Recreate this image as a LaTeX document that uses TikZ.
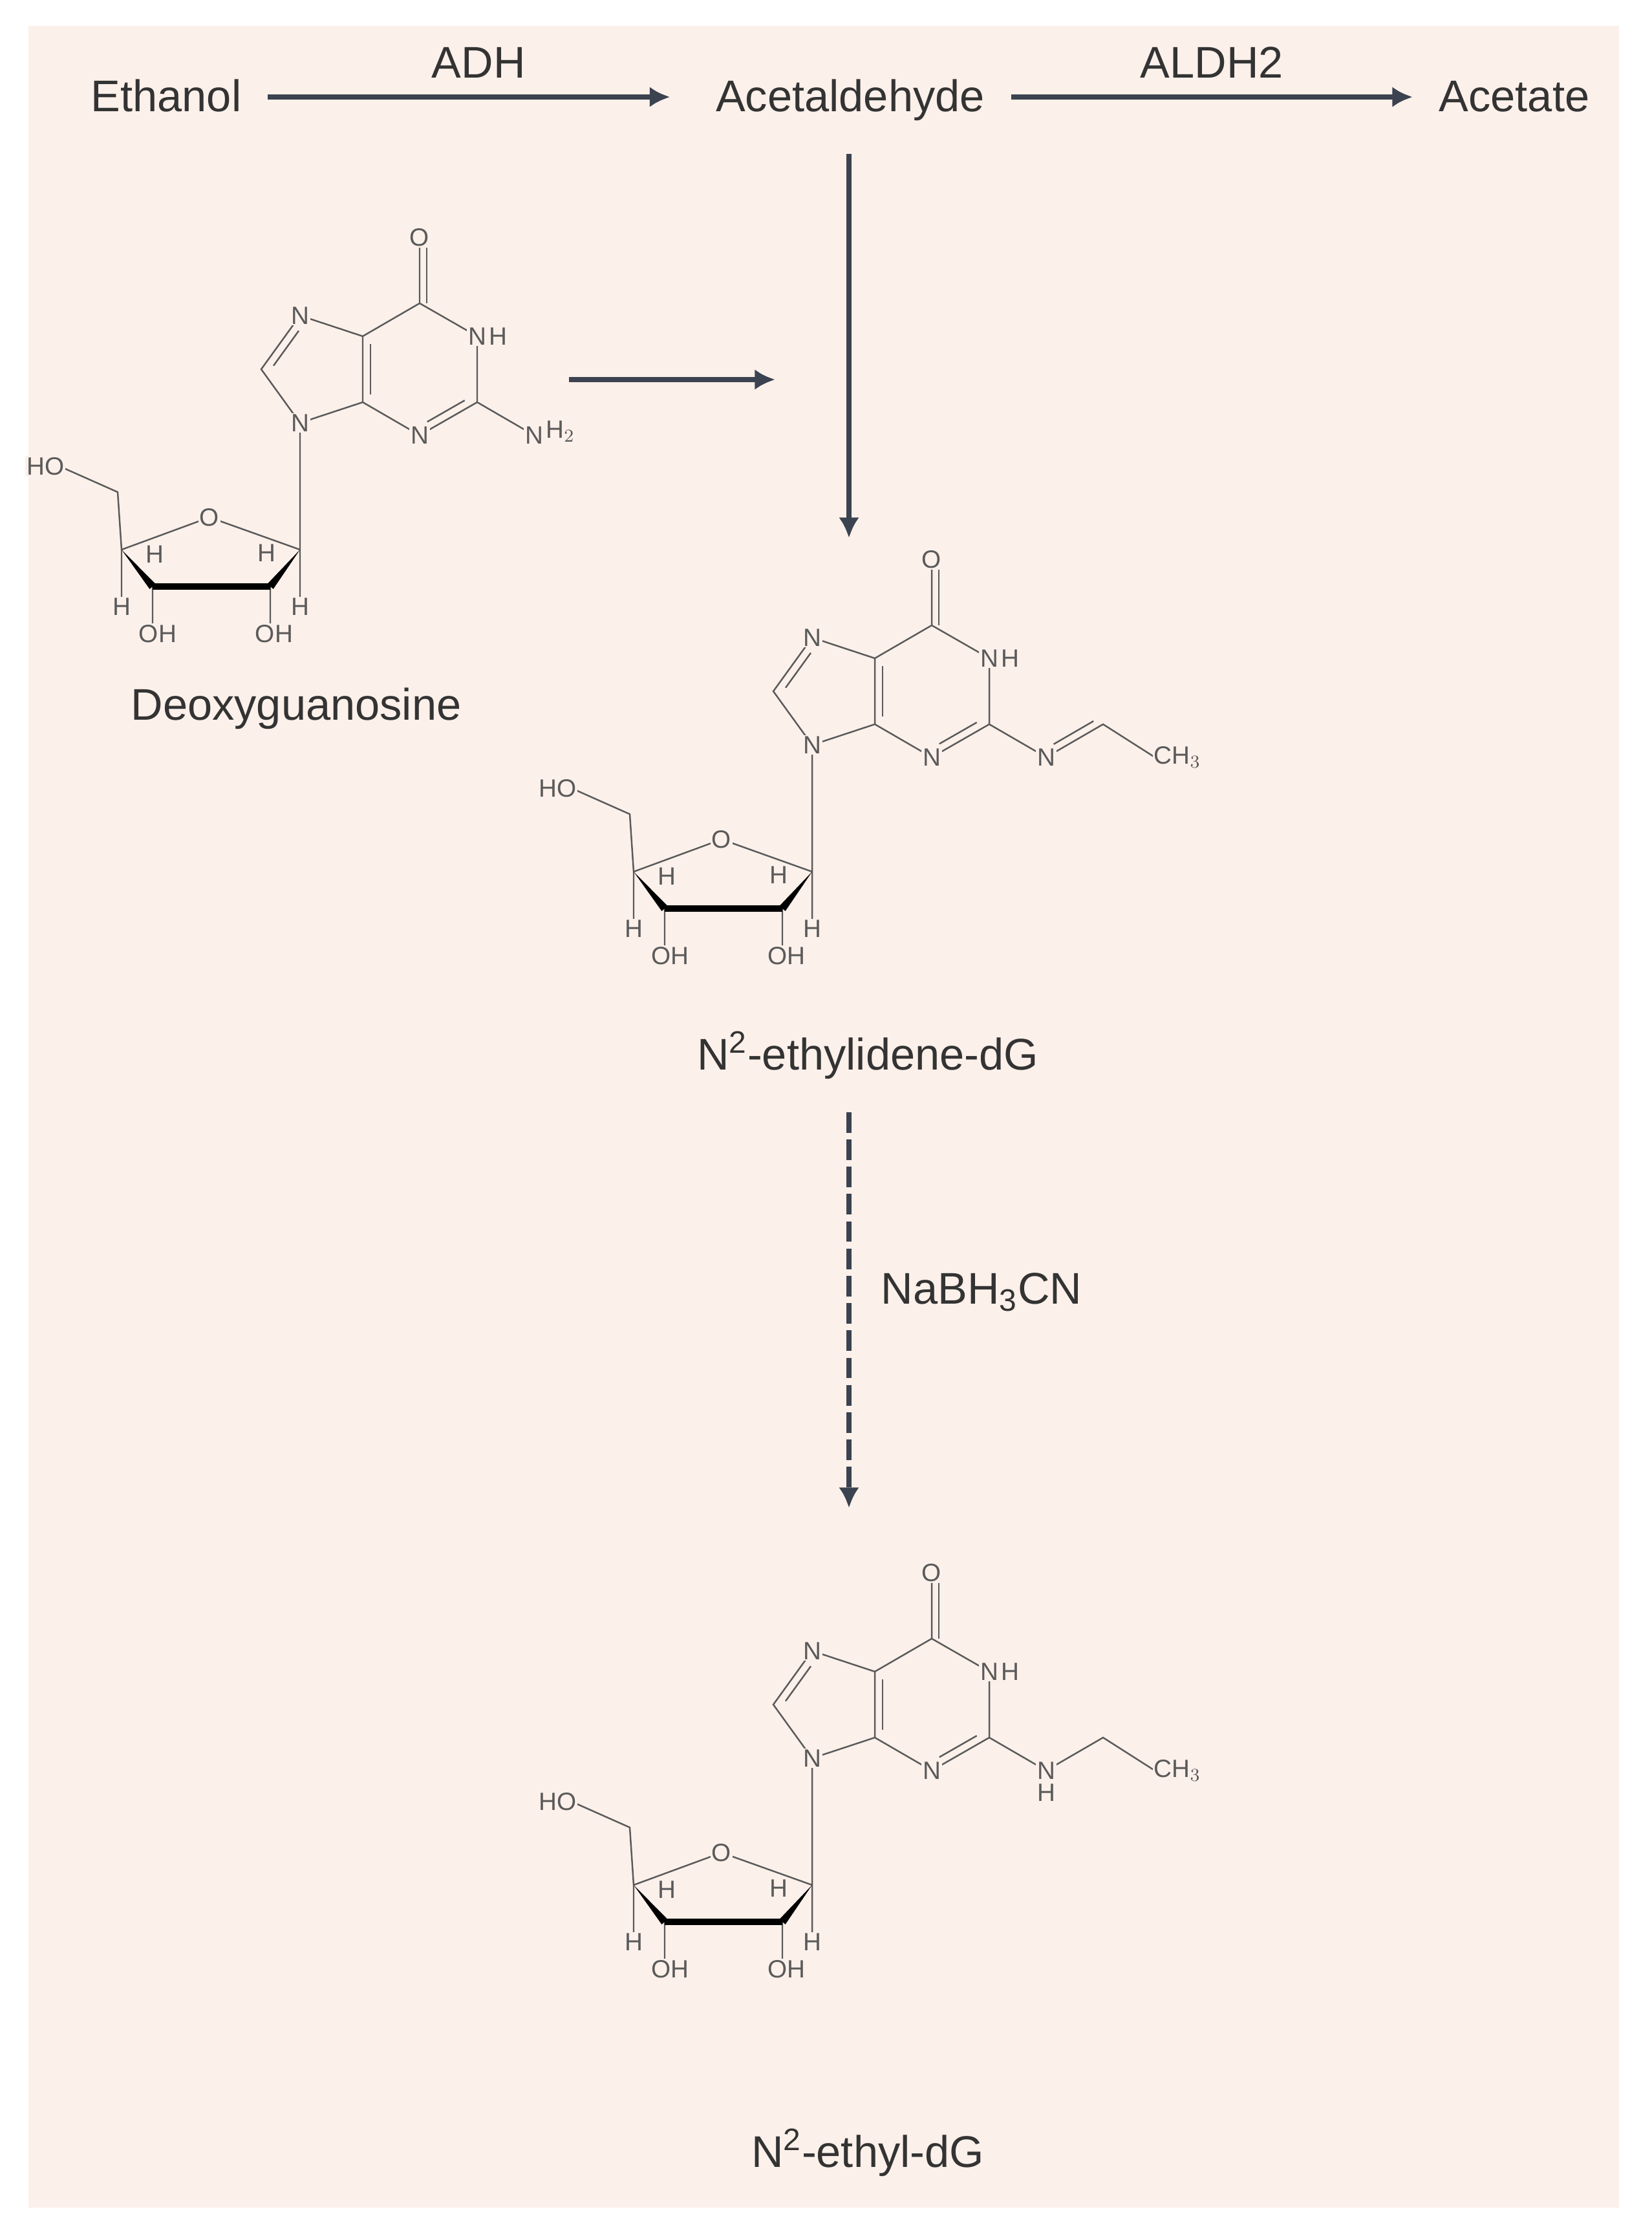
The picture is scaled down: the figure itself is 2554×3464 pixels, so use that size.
\documentclass[tikz,border=0pt]{standalone}
\usepackage{fontspec}
\setmainfont{Liberation Sans}
\usetikzlibrary{calc,arrows.meta}
\definecolor{bg}{HTML}{FCF0EA}
\definecolor{txt}{HTML}{333333}
\definecolor{mol}{HTML}{5A5A5A}
\definecolor{arr}{HTML}{3B4250}
\tikzset{
  main/.style={font=\fontsize{19.5}{23}\selectfont,text=txt,inner sep=0pt},
  lab/.style={font=\fontsize{11}{13}\selectfont,text=mol,fill=bg,inner sep=0.6pt},
  labn/.style={font=\fontsize{11}{13}\selectfont,text=mol,inner sep=0.3pt},
  bond/.style={draw=mol,line width=0.7pt},
  bold/.style={draw=black,line width=3pt},
  rxn/.style={draw=arr,line width=2.5pt,-{Latex[length=9pt,width=9pt]}},
}
% #1 prefix, #2 x, #3 y, #4 side chain: 0 NH2, 1 N=CH-CH3, 2 NH-CH2-CH3
\newcommand\nucleo[4]{%
\begin{scope}[shift={(#2,#3)}]
 \coordinate (#1N9) at (0,0);
 \coordinate (#1C4) at (97,-32);
 \coordinate (#1C5) at (97,-134);
 \coordinate (#1C6) at (185,-185);
 \coordinate (#1N1) at (274,-134);
 \coordinate (#1C2) at (274,-32);
 \coordinate (#1N3) at (185,19);
 \coordinate (#1N7) at (0,-166);
 \coordinate (#1C8) at (-60,-83);
 \coordinate (#1O6) at (185,-287);
 \coordinate (#1X) at (362,19);
 \coordinate (#1Y) at (450,-32);
 \coordinate (#1Z) at (530,19);
 \coordinate (#1C1) at (0,196);
 \coordinate (#1O4) at (-140,146);
 \coordinate (#1CA) at (-276,196);
 \coordinate (#1CB) at (-228,253);
 \coordinate (#1CC) at (-46,253);
 \coordinate (#1CH) at (-282,107);
 \coordinate (#1HO) at (-372,67);
 \path[bond] (#1N9)--(#1C4)--(#1C5)--(#1C6)--(#1N1)--(#1C2)--(#1N3)--(#1C4)
   (#1C5)--(#1N7)--(#1C8)--(#1N9) (#1C6)--(#1O6) (#1C2)--(#1X);
 \path[bond] ($(#1C4)!0.12!(#1C5)+(12,0)$)--($(#1C4)!0.88!(#1C5)+(12,0)$);
 \path[bond] ($(#1C8)!0.15!(#1N7)+(10,7)$)--($(#1C8)!0.8!(#1N7)+(10,7)$);
 \path[bond] ($(#1C2)!0.15!(#1N3)+(-6,-10.5)$)--($(#1C2)!0.8!(#1N3)+(-6,-10.5)$);
 \path[bond] ($(#1C6)+(11,0)$)--($(#1O6)+(11,0)$);
 % sugar
 \path[bond] (#1N9)--(#1C1)--(#1O4)--(#1CA)--(#1CH)--(#1HO)
   (#1CA)--++(0,88) (#1CB)--++(0,69) (#1CC)--++(0,69) (#1C1)--++(0,88);
 \fill[black] (#1CA)--($(#1CB)+(4.6,-3.9)$)--($(#1CB)+(-4.6,3.9)$)--cycle;
 \fill[black] (#1C1)--($(#1CC)+(4.7,3.8)$)--($(#1CC)+(-4.7,-3.8)$)--cycle;
 \path[bold] (#1CB)--(#1CC);
 \node[lab] (#1lN9) at (#1N9) {N};
 \node[lab] (#1lN7) at (#1N7) {N};
 \node[lab] (#1lN3) at (#1N3) {N};
 \node[lab] (#1lO6) at (#1O6) {O};
 \node[lab] (#1lN1) at (#1N1) {N};
 \node[labn,anchor=west] (#1lH1) at (#1lN1.east) {H};
 \node[lab] (#1lO4) at (#1O4) {O};
 \node[lab,anchor=east] (#1lHO) at ($(#1HO)+(10,0)$) {HO};
 \node[labn] (#1h1) at (-225,203) {H};
 \node[labn] (#1h2) at (-52,201) {H};
 \node[lab] (#1h3) at (-276,284) {H};
 \node[lab] (#1oh1) at (-220,326) {OH};
 \node[lab] (#1oh2) at (-40,326) {OH};
 \node[lab] (#1h4) at (0,284) {H};
 \ifcase#4
   \node[lab] (#1lX) at (#1X) {N};
   \node[labn,anchor=west] (#1lH2) at ($(#1lX.east)+(0,-6)$) {H$_2$};
 \or
   \path[bond] (#1X)--(#1Y)--(#1Z);
   \path[bond] ($(#1X)!0.2!(#1Y)+(-6,-10)$)--($(#1X)!0.9!(#1Y)+(-6,-10)$);
   \node[lab] (#1lX) at (#1X) {N};
   \node[lab,anchor=west] (#1lC) at ($(#1Z)+(-4,0)$) {CH$_3$};
 \or
   \path[bond] (#1X)--(#1Y)--(#1Z);
   \node[lab] (#1lX) at (#1X) {N};
   \node[labn,anchor=north] (#1lHX) at ($(#1lX.south)+(0,3)$) {H};
   \node[lab,anchor=west] (#1lC) at ($(#1Z)+(-4,0)$) {CH$_3$};
 \fi
\end{scope}}
\begin{document}
\begin{tikzpicture}[x=0.01cm,y=-0.01cm]
\useasboundingbox (0,0) rectangle (2554,3464);
\fill[white] (0,0) rectangle (2554,3464);
\fill[bg] (44,40) rectangle (2504,3414);
\node[main,anchor=base] (eth) at (257,173) {Ethanol};
\node[main,anchor=base] (acet) at (1315,173) {Acetaldehyde};
\node[main,anchor=base] (ace) at (2342,173) {Acetate};
\coordinate (r1) at (257,150);
\draw[rxn,shorten <=4mm,shorten >=7mm] (eth.east |- r1) -- node[main,above=2.5mm] (adh) {ADH} (acet.west |- r1);
\draw[rxn,shorten <=4mm,shorten >=4mm] (acet.east |- r1) -- node[main,above=2.5mm] (aldh) {ALDH2} (ace.west |- r1);
\coordinate (vt) at (1313,832);
\draw[rxn,shorten <=5mm] (acet.south -| vt) -- (vt);
\coordinate (hs) at (880,587);
\coordinate (he) at (1199,587);
\draw[rxn] (hs) -- (he);
\nucleo{a}{464}{654}{0}
\nucleo{b}{1256}{1152}{1}
\nucleo{c}{1256}{2719}{2}
\node[main] (dg) at (458,1096) {Deoxyguanosine};
\node[main] (eld) at (1342,1632) {N\textsuperscript{2}-ethylidene-dG};
\node[main] (edg) at (1342,3329) {N\textsuperscript{2}-ethyl-dG};
\coordinate (dt) at (1313,2332);
\draw[rxn,dash pattern=on 9pt off 3pt,shorten <=5mm] (eld.south -| dt) -- (dt);
\node[main] (nab) at (1518,1998) {NaBH\textsubscript{3}CN};
\end{tikzpicture}
\end{document}
